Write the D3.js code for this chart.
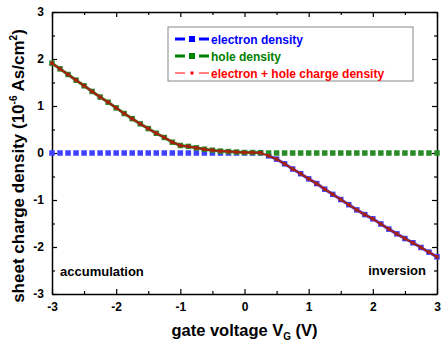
<!DOCTYPE html>
<html>
<head>
<meta charset="utf-8">
<script src="https://cdn.jsdelivr.net/npm/d3@7"></script>
<style>
  body { margin: 0; background: #fff; }
  text { font-family: "Liberation Sans", Arial, sans-serif; font-weight: bold; }
</style>
</head>
<body>
<div id="chart"></div>
<script>
// gate voltage, V (step 0.125)
const voltage = d3.range(49).map(i => -3 + i * 0.125);

// hole density, 1e-6 As/cm^2
const holeDensity = [
  1.91, 1.79, 1.67, 1.55, 1.43, 1.31, 1.19, 1.08, 0.96, 0.84, 0.73, 0.62, 0.52,
  0.42, 0.33, 0.23, 0.16, 0.14, 0.11, 0.08, 0.06, 0.04, 0.03, 0.02, 0.01,
  0.01, 0.005, 0, 0, 0, 0, 0, 0, 0, 0, 0, 0, 0, 0, 0, 0, 0, 0, 0, 0, 0, 0, 0, 0
];

// electron density, 1e-6 As/cm^2
const electronDensity = [
  0, 0, 0, 0, 0, 0, 0, 0, 0, 0, 0, 0, 0, 0, 0, 0, 0, 0, 0, 0, 0, 0, 0, 0, 0,
  0, 0, -0.06, -0.13, -0.23, -0.34, -0.44, -0.55, -0.65, -0.77, -0.88, -0.99,
  -1.10, -1.21, -1.31, -1.40, -1.51, -1.62, -1.72, -1.82, -1.91, -2.01, -2.11, -2.21
];

const totalDensity = holeDensity.map((h, i) => h + electronDensity[i]);

const xTicks = [-3, -2, -1, 0, 1, 2, 3];
const yTicks = [-3, -2, -1, 0, 1, 2, 3];

const seriesNames = ["electron density", "hole density", "electron + hole charge density"];
const seriesColors = ["#0000ff", "#008000", "#ff0000"];

const W = 445, H = 350;
const margin = { top: 12, right: 8, bottom: 56, left: 52 },
    width = W - margin.left - margin.right,
    height = H - margin.top - margin.bottom;

const svgRoot = d3.select("#chart").append("svg")
    .attr("width", W)
    .attr("height", H);

const svg = svgRoot.append("g")
    .attr("transform", `translate(${margin.left},${margin.top})`);

const x = d3.scaleLinear().domain([-3, 3]).range([0, width]);
const y = d3.scaleLinear().domain([-3, 3]).range([height, 0]);

const minorX = d3.range(-2.5, 3, 1);
const minorY = d3.range(-2.5, 3, 1);

// axes with inward ticks
function drawAxis(axisFn, scale, ticks, minor, transform, labels) {
    const g = svg.append("g").attr("transform", transform);
    g.call(axisFn(scale).tickValues(ticks).tickSizeInner(-5).tickSizeOuter(0)
        .tickPadding(8).tickFormat(labels ? d => String(d) : ""));
    g.append("g").call(axisFn(scale).tickValues(minor).tickSizeInner(-3).tickSizeOuter(0).tickFormat(""))
        .select(".domain").remove();
    g.selectAll(".domain").attr("stroke", "#000").attr("stroke-width", 1.5);
    g.selectAll(".tick line").attr("stroke", "#000").attr("stroke-width", 1.2);
    g.selectAll("text").attr("font-size", 12).attr("fill", "#000")
        .style("font-family", '"Liberation Sans", Arial, sans-serif').style("font-weight", "bold");
    return g;
}

drawAxis(d3.axisBottom, x, xTicks, minorX, `translate(0,${height})`, true);
drawAxis(d3.axisTop, x, xTicks, minorX, "translate(0,0)", false);
drawAxis(d3.axisLeft, y, yTicks, minorY, "translate(0,0)", true);
drawAxis(d3.axisRight, y, yTicks, minorY, `translate(${width},0)`, false);

// series
const lineGen = d3.line().x((d, i) => x(voltage[i])).y(d => y(d));

function drawSeries(values, color, lw, ms, showLine) {
    const g = svg.append("g");
    g.append("path")
        .datum(values)
        .attr("fill", "none")
        .attr("stroke", color)
        .attr("stroke-width", lw)
        .attr("d", showLine ? lineGen.defined(d => d !== 0)(values) : lineGen.defined(() => true)(values));
    g.selectAll("rect")
        .data(values)
        .enter()
        .append("rect")
        .attr("x", (d, i) => x(voltage[i]) - ms / 2)
        .attr("y", d => y(d) - ms / 2)
        .attr("width", ms)
        .attr("height", ms)
        .attr("fill", color);
}

drawSeries(electronDensity, "#4040ff", 3, 5.5, true);
drawSeries(holeDensity, "#2a8a2a", 3, 5.5, true);
drawSeries(totalDensity, "#a8200e", 2, 3.5, false);

// annotations
svg.append("text").attr("x", 8).attr("y", 264).attr("font-size", 13).text("accumulation");
svg.append("text").attr("x", width - 11).attr("y", 263).attr("font-size", 13)
    .attr("text-anchor", "end").text("inversion");

// legend
const legend = svgRoot.append("g").attr("transform", "translate(168,27)");
legend.append("rect")
    .attr("width", 245).attr("height", 54)
    .attr("fill", "#fff").attr("stroke", "#888").attr("stroke-width", 1);

const legendItems = legend.selectAll(".legend-item")
    .data(seriesNames)
    .enter()
    .append("g")
    .attr("class", "legend-item")
    .attr("transform", (d, i) => `translate(0,${12 + i * 17})`);

legendItems.append("line")
    .attr("x1", 7).attr("x2", 41)
    .attr("stroke", (d, i) => seriesColors[i])
    .attr("stroke-width", (d, i) => i < 2 ? 3 : 1);
legendItems.append("line")
    .attr("x1", 17).attr("x2", 31)
    .attr("stroke", "#fff")
    .attr("stroke-width", 4);
legendItems.append("rect")
    .attr("x", (d, i) => i < 2 ? 21 : 22.5)
    .attr("y", (d, i) => i < 2 ? -3 : -1.5)
    .attr("width", (d, i) => i < 2 ? 6 : 3)
    .attr("height", (d, i) => i < 2 ? 6 : 3)
    .attr("fill", (d, i) => seriesColors[i]);
legendItems.append("text")
    .attr("x", 43)
    .attr("y", 4.5)
    .attr("font-size", 12)
    .attr("fill", (d, i) => seriesColors[i])
    .text(d => d);

// axis titles
const xTitle = svgRoot.append("text")
    .attr("x", margin.left + width / 2)
    .attr("y", 336)
    .attr("text-anchor", "middle")
    .attr("font-size", 16.5);
xTitle.append("tspan").text("gate voltage V");
xTitle.append("tspan").attr("font-size", 10).attr("dy", 4).text("G");
xTitle.append("tspan").attr("dy", -4).text(" (V)");

const yTitle = svgRoot.append("text")
    .attr("transform", "translate(24,166) rotate(-90)")
    .attr("text-anchor", "middle")
    .attr("font-size", 17);
yTitle.append("tspan").text("sheet charge density (10");
yTitle.append("tspan").attr("font-size", 10).attr("dy", -7).text("-6");
yTitle.append("tspan").attr("dy", 7).text(" As/cm");
yTitle.append("tspan").attr("font-size", 10).attr("dy", -7).text("2");
yTitle.append("tspan").attr("dy", 7).text(")");
</script>
</body>
</html>
